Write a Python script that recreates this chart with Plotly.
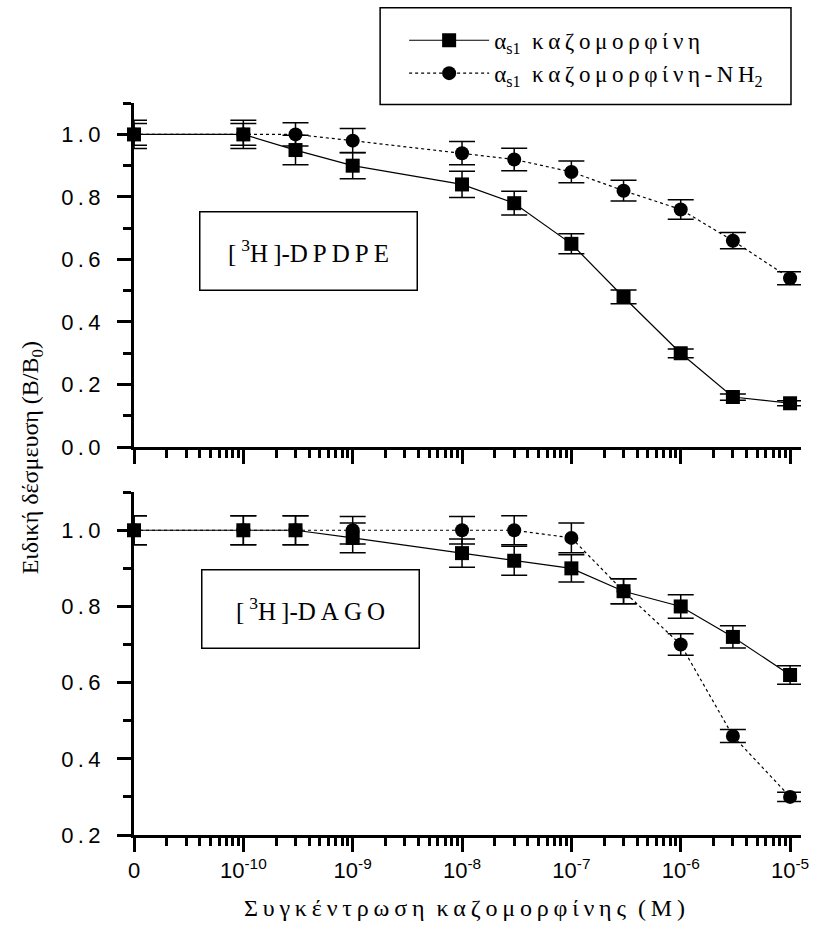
import plotly.graph_objects as go

# Ligand concentration (M). The control without peptide is drawn at 1e-11, labelled "0".
conc = [1e-11, 1e-10, 3e-10, 1e-9, 1e-8, 3e-8, 1e-7, 3e-7, 1e-6, 3e-6, 1e-5]

# [3H]-DPDPE displacement (B/B0) and SEM
dpdpe_cas = [1.00, 1.00, 0.95, 0.90, 0.84, 0.78, 0.65, 0.48, 0.30, 0.16, 0.14]
dpdpe_cas_err = [0.045, 0.045, 0.047, 0.042, 0.042, 0.038, 0.032, 0.022, 0.014, 0.010, 0.008]
dpdpe_nh2 = [1.00, 1.00, 1.00, 0.98, 0.94, 0.92, 0.88, 0.82, 0.76, 0.66, 0.54]
dpdpe_nh2_err = [0.035, 0.035, 0.037, 0.039, 0.037, 0.036, 0.035, 0.033, 0.031, 0.026, 0.021]

# [3H]-DAGO displacement (B/B0) and SEM
dago_cas = [1.00, 1.00, 1.00, 0.98, 0.94, 0.92, 0.90, 0.84, 0.80, 0.72, 0.62]
dago_cas_err = [0.038, 0.038, 0.038, 0.039, 0.037, 0.038, 0.036, 0.033, 0.031, 0.029, 0.024]
dago_nh2 = [1.00, 1.00, 1.00, 1.00, 1.00, 1.00, 0.98, 0.84, 0.70, 0.46, 0.30]
dago_nh2_err = [0.038, 0.038, 0.038, 0.036, 0.036, 0.038, 0.039, 0.033, 0.028, 0.017, 0.012]

x_tickvals = [1e-11, 1e-10, 1e-9, 1e-8, 1e-7, 1e-6, 1e-5]
x_ticktext = ["0", "10<sup>-10</sup>", "10<sup>-9</sup>", "10<sup>-8</sup>",
              "10<sup>-7</sup>", "10<sup>-6</sup>", "10<sup>-5</sup>"]
x_minor = [m * 10.0 ** k for k in range(-11, -5) for m in range(2, 10)]

y_top_ticks = [0.0, 0.2, 0.4, 0.6, 0.8, 1.0]
y_bot_ticks = [0.2, 0.4, 0.6, 0.8, 1.0]

TS = "\u2009"  # thin space used for letter tracking


def spaced(s):
    return TS.join(s)


def tick_label(v):
    return spaced(f"{v:.1f}")


SERIF = "Liberation Serif"
SANS = "Liberation Sans"

name_cas = "α<sub>s1</sub>  " + spaced("καζομορφίνη")
name_nh2 = "α<sub>s1</sub>  " + spaced("καζομορφίνη-NH") + "<sub>2</sub>"

fig = go.Figure()


def add_series(y, err, xa, ya, symbol, dash, name, legend):
    fig.add_trace(go.Scatter(
        x=conc, y=y, xaxis=xa, yaxis=ya, name=name, showlegend=legend,
        mode="lines+markers", cliponaxis=False,
        line=dict(color="black", width=1.2, dash=dash),
        marker=dict(symbol=symbol, size=14, color="black"),
        error_y=dict(type="data", array=err, color="black", thickness=1.5, width=13),
    ))


add_series(dpdpe_cas, dpdpe_cas_err, "x2", "y2", "square", "solid", name_cas, True)
add_series(dpdpe_nh2, dpdpe_nh2_err, "x2", "y2", "circle", "dot", name_nh2, True)
add_series(dago_cas, dago_cas_err, "x", "y", "square", "solid", name_cas, False)
add_series(dago_nh2, dago_nh2_err, "x", "y", "circle", "dot", name_nh2, False)

axis_common = dict(
    showline=True, linewidth=3, linecolor="black", mirror=False,
    showgrid=False, zeroline=False,
    ticks="outside", ticklen=14, tickwidth=2.5, tickcolor="black",
    tickfont=dict(family=SANS, size=22, color="black"),
)

x_common = dict(
    axis_common, type="log", range=[-11, -4.9],
    tickmode="array", tickvals=x_tickvals, ticktext=x_ticktext,
    minor=dict(tickmode="array", tickvals=x_minor, ticks="outside",
               ticklen=8, tickwidth=2.5, tickcolor="black"),
)

y_minor = dict(dtick=0.1, ticks="outside", ticklen=8, tickwidth=2.5, tickcolor="black")

# legend frame (paper coordinates of the plot area)
frame_x0, frame_x1 = 0.369, 0.985
frame_y0, frame_y1 = 0.998, 1.130

fig.update_layout(
    width=821, height=932,
    margin=dict(l=134, r=18, t=103, b=97),
    paper_bgcolor="white", plot_bgcolor="white",
    font=dict(family=SERIF, color="black"),
    xaxis=dict(x_common, domain=[0, 1], anchor="y", ticklabelstandoff=0),
    xaxis2=dict(x_common, domain=[0, 1], anchor="y2", matches="x", showticklabels=False),
    yaxis=dict(axis_common, domain=[0, 0.4686], anchor="x", range=[0.2, 1.1005],
               tickmode="array", tickvals=y_bot_ticks,
               ticktext=[tick_label(v) for v in y_bot_ticks],
               minor=dict(y_minor, tick0=0.1), ticklabelstandoff=12),
    yaxis2=dict(axis_common, domain=[0.530, 1], anchor="x2", range=[0, 1.1005],
                tickmode="array", tickvals=y_top_ticks,
                ticktext=[tick_label(v) for v in y_top_ticks],
                minor=dict(y_minor, tick0=0.1), ticklabelstandoff=12),
    legend=dict(
        x=0.405, y=1.115, xanchor="left", yanchor="top",
        borderwidth=0, bgcolor="rgba(0,0,0,0)",
        font=dict(family=SERIF, size=23, color="black"),
        itemwidth=80,
    ),
    showlegend=True,
    shapes=[dict(type="rect", xref="paper", yref="paper",
                 x0=frame_x0, x1=frame_x1, y0=frame_y0, y1=frame_y1,
                 line=dict(color="black", width=1.5), fillcolor="rgba(0,0,0,0)")],
)

box_style = dict(
    xref="paper", yref="paper", showarrow=False,
    xanchor="center", yanchor="middle",
    bordercolor="black", borderwidth=1.5, borderpad=2,
    width=212, height=73,
    font=dict(family=SERIF, size=25, color="black"),
)
fig.add_annotation(box_style, x=0.2616, y=0.798,
                   text="[" + TS + "<sup>3</sup>H" + TS + "]-" + spaced("DPDPE"))
fig.add_annotation(box_style, x=0.2646, y=0.3087,
                   text="[" + TS + "<sup>3</sup>H" + TS + "]-" + spaced("DAGO"))

# Axis titles
fig.add_annotation(
    xref="paper", yref="paper", x=0.496, y=-0.0997, showarrow=False,
    xanchor="center", yanchor="middle",
    text=spaced("Συγκέντρωση") + "  " + spaced("καζομορφίνης") + "  " + spaced("(M)"),
    font=dict(family=SERIF, size=24, color="black"),
)
fig.add_annotation(
    xref="paper", yref="paper", x=-0.1525, y=0.515, showarrow=False, textangle=-90,
    xanchor="center", yanchor="middle",
    text="Ειδική δέσμευση (B/B<sub>0</sub>)",
    font=dict(family=SERIF, size=24, color="black"),
)

fig.write_html("out.html")
